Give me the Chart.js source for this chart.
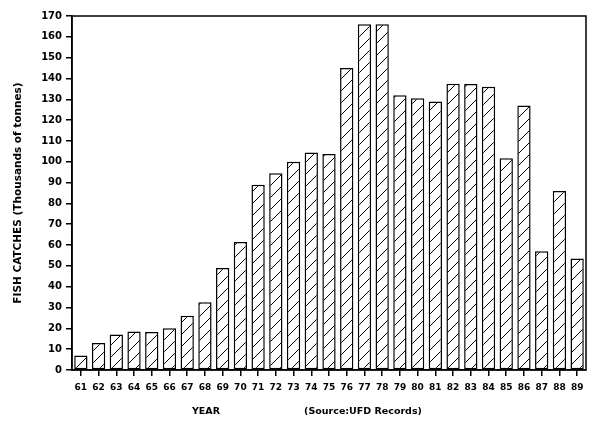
<!DOCTYPE html>
<html>
<head>
<meta charset="utf-8">
<script src="https://cdn.jsdelivr.net/npm/chart.js@4/dist/chart.umd.min.js"></script>
<style>
  html, body { margin: 0; padding: 0; background: #fff; }
  #wrap { width: 600px; height: 430px; }
</style>
</head>
<body>
<div id="wrap"><canvas id="fishChart" width="600" height="430"></canvas></div>
<script>
// Data
const years = ['61','62','63','64','65','66','67','68','69','70','71','72','73','74','75',
               '76','77','78','79','80','81','82','83','84','85','86','87','88','89'];
const catches = [7, 13, 17, 18.5, 18.3, 20, 26, 32.5, 49, 61.5, 89, 94.5, 100, 104.5, 103.7,
                 145, 166, 166, 132, 130.5, 129, 137.5, 137.3, 136, 101.7, 127, 57, 86, 53.6];
const yTitle = 'FISH CATCHES (Thousands of tonnes)';
const xTitle = 'YEAR';
const sourceNote = '(Source:UFD Records)';

const FONT = '"DejaVu Sans", sans-serif';

// Diagonal hatch fill
function hatch() {
  const c = document.createElement('canvas');
  c.width = 12; c.height = 12;
  const g = c.getContext('2d');
  g.fillStyle = '#fff';
  g.fillRect(0, 0, 12, 12);
  g.strokeStyle = '#000';
  g.lineWidth = 1;
  g.beginPath();
  g.moveTo(0, 12); g.lineTo(12, 0);
  g.moveTo(-6, 6); g.lineTo(6, -6);
  g.moveTo(6, 18); g.lineTo(18, 6);
  g.stroke();
  return g.createPattern(c, 'repeat');
}

// Frame round the plot and the two labels under the axis
const framePlugin = {
  id: 'frame',
  afterDraw(chart) {
    const { ctx, chartArea: a } = chart;
    ctx.save();
    ctx.strokeStyle = '#000';
    ctx.lineWidth = 1.5;
    ctx.strokeRect(a.left, a.top, a.right - a.left, a.bottom - a.top);
    ctx.fillStyle = '#000';
    ctx.font = 'bold 9.5px ' + FONT;
    ctx.textAlign = 'center';
    ctx.textBaseline = 'middle';
    ctx.fillText(xTitle, 206, 412);
    ctx.fillText(sourceNote, 363, 412);
    ctx.restore();
  }
};

new Chart(document.getElementById('fishChart'), {
  type: 'bar',
  data: {
    labels: years,
    datasets: [{
      data: catches,
      backgroundColor: hatch(),
      borderColor: '#000',
      borderWidth: 1.5,
      borderSkipped: false,
      categoryPercentage: 1,
      barPercentage: 0.75
    }]
  },
  options: {
    responsive: false,
    animation: false,
    layout: { padding: { left: 8, right: 14, top: 16, bottom: 0 } },
    plugins: {
      legend: { display: false },
      tooltip: { enabled: false }
    },
    scales: {
      x: {
        grid: { offset: false, drawOnChartArea: false, drawTicks: true, tickLength: 6, color: '#000', lineWidth: 1.5 },
        border: { display: true, color: '#000', width: 1.5 },
        ticks: { color: '#000', font: { family: FONT, size: 9, weight: 'bold' }, padding: 6, maxRotation: 0, autoSkip: false },
        afterFit(scale) { scale.height = 60; }
      },
      y: {
        min: 0,
        max: 170,
        grid: { drawOnChartArea: false, drawTicks: true, tickLength: 6, color: '#000', lineWidth: 1.5 },
        border: { display: true, color: '#000', width: 1.5 },
        ticks: { stepSize: 10, color: '#000', font: { family: FONT, size: 10, weight: 'bold' }, padding: 4 },
        title: { display: true, text: yTitle, color: '#000', font: { family: FONT, size: 10.5, weight: 'bold' }, padding: { top: 4, bottom: 14 } },
        afterFit(scale) { scale.width = 64; }
      }
    }
  },
  plugins: [framePlugin]
});
</script>
</body>
</html>
